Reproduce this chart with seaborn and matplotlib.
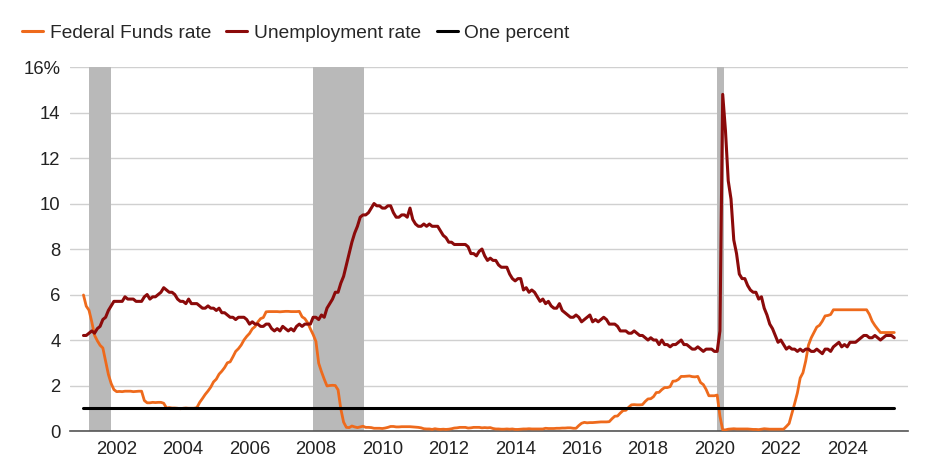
import pandas as pd
import numpy as np
import matplotlib
matplotlib.use("Agg")
import matplotlib.pyplot as plt
import seaborn as sns

# monthly values, Jan 2001 - Jun 2025
fed_funds = [
    5.98, 5.49, 5.31, 4.80, 4.21, 3.97, 3.77, 3.65, 3.07, 2.49, 2.09, 1.82,
    1.73, 1.74, 1.73, 1.75, 1.75, 1.75, 1.73, 1.74, 1.75, 1.75, 1.34, 1.24,
    1.24, 1.26, 1.25, 1.26, 1.26, 1.22, 1.01, 1.03, 1.01, 1.01, 1.00, 0.98,
    1.00, 1.01, 1.00, 1.00, 1.00, 1.03, 1.26, 1.43, 1.61, 1.76, 1.93, 2.16,
    2.28, 2.50, 2.63, 2.79, 3.00, 3.04, 3.26, 3.50, 3.62, 3.78, 4.00, 4.16,
    4.29, 4.49, 4.59, 4.79, 4.94, 4.99, 5.24, 5.25, 5.25, 5.25, 5.25, 5.24,
    5.25, 5.26, 5.26, 5.25, 5.25, 5.25, 5.26, 5.02, 4.94, 4.76, 4.49, 4.24,
    3.94, 2.98, 2.61, 2.28, 1.98, 2.00, 2.01, 2.00, 1.81, 0.97, 0.39, 0.16,
    0.15, 0.22, 0.18, 0.15, 0.18, 0.21, 0.16, 0.16, 0.15, 0.12, 0.12, 0.12,
    0.11, 0.13, 0.16, 0.20, 0.20, 0.18, 0.18, 0.19, 0.19, 0.19, 0.19, 0.18,
    0.17, 0.16, 0.14, 0.10, 0.09, 0.09, 0.07, 0.10, 0.08, 0.07, 0.08, 0.07,
    0.08, 0.10, 0.13, 0.14, 0.16, 0.16, 0.16, 0.13, 0.14, 0.16, 0.16, 0.16,
    0.14, 0.15, 0.14, 0.15, 0.11, 0.09, 0.09, 0.08, 0.08, 0.09, 0.08, 0.09,
    0.07, 0.07, 0.08, 0.09, 0.09, 0.10, 0.09, 0.09, 0.09, 0.09, 0.09, 0.12,
    0.11, 0.11, 0.11, 0.12, 0.12, 0.13, 0.13, 0.14, 0.14, 0.12, 0.12, 0.24,
    0.34, 0.38, 0.36, 0.37, 0.37, 0.38, 0.39, 0.40, 0.40, 0.40, 0.41, 0.54,
    0.65, 0.66, 0.79, 0.90, 0.91, 1.04, 1.15, 1.16, 1.15, 1.15, 1.16, 1.30,
    1.41, 1.42, 1.51, 1.69, 1.70, 1.82, 1.91, 1.91, 1.95, 2.19, 2.20, 2.27,
    2.40, 2.40, 2.41, 2.42, 2.39, 2.38, 2.40, 2.13, 2.04, 1.83, 1.55, 1.55,
    1.55, 1.58, 0.65, 0.05, 0.05, 0.08, 0.09, 0.10, 0.09, 0.09, 0.09, 0.09,
    0.09, 0.08, 0.07, 0.07, 0.06, 0.08, 0.10, 0.09, 0.08, 0.08, 0.08, 0.08,
    0.08, 0.08, 0.20, 0.33, 0.77, 1.21, 1.68, 2.33, 2.56, 3.08, 3.78, 4.10,
    4.33, 4.57, 4.65, 4.83, 5.06, 5.08, 5.12, 5.33, 5.33, 5.33, 5.33, 5.33,
    5.33, 5.33, 5.33, 5.33, 5.33, 5.33, 5.33, 5.33, 5.13, 4.83, 4.64, 4.48,
    4.33, 4.33, 4.33, 4.33, 4.33, 4.33,
]

unemployment = [
    4.2, 4.2, 4.3, 4.4, 4.3, 4.5, 4.6, 4.9, 5.0, 5.3, 5.5, 5.7,
    5.7, 5.7, 5.7, 5.9, 5.8, 5.8, 5.8, 5.7, 5.7, 5.7, 5.9, 6.0,
    5.8, 5.9, 5.9, 6.0, 6.1, 6.3, 6.2, 6.1, 6.1, 6.0, 5.8, 5.7,
    5.7, 5.6, 5.8, 5.6, 5.6, 5.6, 5.5, 5.4, 5.4, 5.5, 5.4, 5.4,
    5.3, 5.4, 5.2, 5.2, 5.1, 5.0, 5.0, 4.9, 5.0, 5.0, 5.0, 4.9,
    4.7, 4.8, 4.7, 4.7, 4.6, 4.6, 4.7, 4.7, 4.5, 4.4, 4.5, 4.4,
    4.6, 4.5, 4.4, 4.5, 4.4, 4.6, 4.7, 4.6, 4.7, 4.7, 4.7, 5.0,
    5.0, 4.9, 5.1, 5.0, 5.4, 5.6, 5.8, 6.1, 6.1, 6.5, 6.8, 7.3,
    7.8, 8.3, 8.7, 9.0, 9.4, 9.5, 9.5, 9.6, 9.8, 10.0, 9.9, 9.9,
    9.8, 9.8, 9.9, 9.9, 9.6, 9.4, 9.4, 9.5, 9.5, 9.4, 9.8, 9.3,
    9.1, 9.0, 9.0, 9.1, 9.0, 9.1, 9.0, 9.0, 9.0, 8.8, 8.6, 8.5,
    8.3, 8.3, 8.2, 8.2, 8.2, 8.2, 8.2, 8.1, 7.8, 7.8, 7.7, 7.9,
    8.0, 7.7, 7.5, 7.6, 7.5, 7.5, 7.3, 7.2, 7.2, 7.2, 6.9, 6.7,
    6.6, 6.7, 6.7, 6.2, 6.3, 6.1, 6.2, 6.1, 5.9, 5.7, 5.8, 5.6,
    5.7, 5.5, 5.4, 5.4, 5.6, 5.3, 5.2, 5.1, 5.0, 5.0, 5.1, 5.0,
    4.8, 4.9, 5.0, 5.1, 4.8, 4.9, 4.8, 4.9, 5.0, 4.9, 4.7, 4.7,
    4.7, 4.6, 4.4, 4.4, 4.4, 4.3, 4.3, 4.4, 4.3, 4.2, 4.2, 4.1,
    4.0, 4.1, 4.0, 4.0, 3.8, 4.0, 3.8, 3.8, 3.7, 3.8, 3.8, 3.9,
    4.0, 3.8, 3.8, 3.7, 3.6, 3.6, 3.7, 3.6, 3.5, 3.6, 3.6, 3.6,
    3.5, 3.5, 4.4, 14.8, 13.2, 11.0, 10.2, 8.4, 7.8, 6.9, 6.7, 6.7,
    6.4, 6.2, 6.1, 6.1, 5.8, 5.9, 5.4, 5.1, 4.7, 4.5, 4.2, 3.9,
    4.0, 3.8, 3.6, 3.7, 3.6, 3.6, 3.5, 3.6, 3.5, 3.6, 3.6, 3.5,
    3.5, 3.6, 3.5, 3.4, 3.6, 3.6, 3.5, 3.7, 3.8, 3.9, 3.7, 3.8,
    3.7, 3.9, 3.9, 3.9, 4.0, 4.1, 4.2, 4.2, 4.1, 4.1, 4.2, 4.1,
    4.0, 4.1, 4.2, 4.2, 4.2, 4.1,
]

# recession periods (start, end) in fractional years
recessions = [(2001.17, 2001.83), (2007.92, 2009.46), (2020.08, 2020.30)]

year_ticks = [2002, 2004, 2006, 2008, 2010, 2012, 2014, 2016, 2018, 2020, 2022, 2024]
y_ticks = [0, 2, 4, 6, 8, 10, 12, 14, 16]
y_labels = ["0", "2", "4", "6", "8", "10", "12", "14", "16%"]

dates = 2001 + np.arange(len(fed_funds)) / 12.0
df = pd.DataFrame({"date": dates,
                   "Federal Funds rate": fed_funds,
                   "Unemployment rate": unemployment,
                   "One percent": 1.0})
long = df.melt(id_vars="date", var_name="series", value_name="value")

sns.set_style("white")
plt.rcParams["font.family"] = ["Liberation Sans", "DejaVu Sans"]

fig = plt.figure(figsize=(9.27, 4.69), dpi=100)
ax = fig.add_axes([0.075, 0.081, 0.9045, 0.776])

for s, e in recessions:
    ax.axvspan(s, e, color="#b9b9b9", lw=0, zorder=1)

palette = {"Federal Funds rate": "#ee6a1c",
           "Unemployment rate": "#8b0a0a",
           "One percent": "#000000"}
sns.lineplot(data=long, x="date", y="value", hue="series", palette=palette,
             linewidth=2.2, ax=ax, zorder=3, legend=False)
for line, lw in zip(ax.lines, [2.0, 2.2, 2.2]):
    line.set_linewidth(lw)

ax.set_xlim(2000.58, 2025.83)
ax.set_ylim(0, 16)
ax.set_xticks(year_ticks)
ax.set_xticklabels([str(y) for y in year_ticks])
ax.set_yticks(y_ticks)
ax.set_yticklabels(y_labels)
ax.tick_params(axis="both", length=0, labelsize=13.3, colors="#222222")
ax.tick_params(axis="y", pad=6.5)
ax.tick_params(axis="x", pad=7)
ax.grid(axis="y", color="#d0d0d0", lw=1, zorder=0)
ax.set_axisbelow(True)
ax.set_xlabel("")
ax.set_ylabel("")
for side in ["top", "right", "left"]:
    ax.spines[side].set_visible(False)
ax.spines["bottom"].set_color("#555555")
ax.spines["bottom"].set_linewidth(1.2)

handles = [plt.Line2D([], [], color=palette[k], lw=2.2) for k in palette]
fig.legend(handles, list(palette.keys()), loc="upper left",
           bbox_to_anchor=(0.005, 0.985), ncol=3, frameon=False,
           fontsize=13.8, handlelength=1.1, handletextpad=0.35,
           columnspacing=0.8)

fig.savefig("out.png", dpi=100)
